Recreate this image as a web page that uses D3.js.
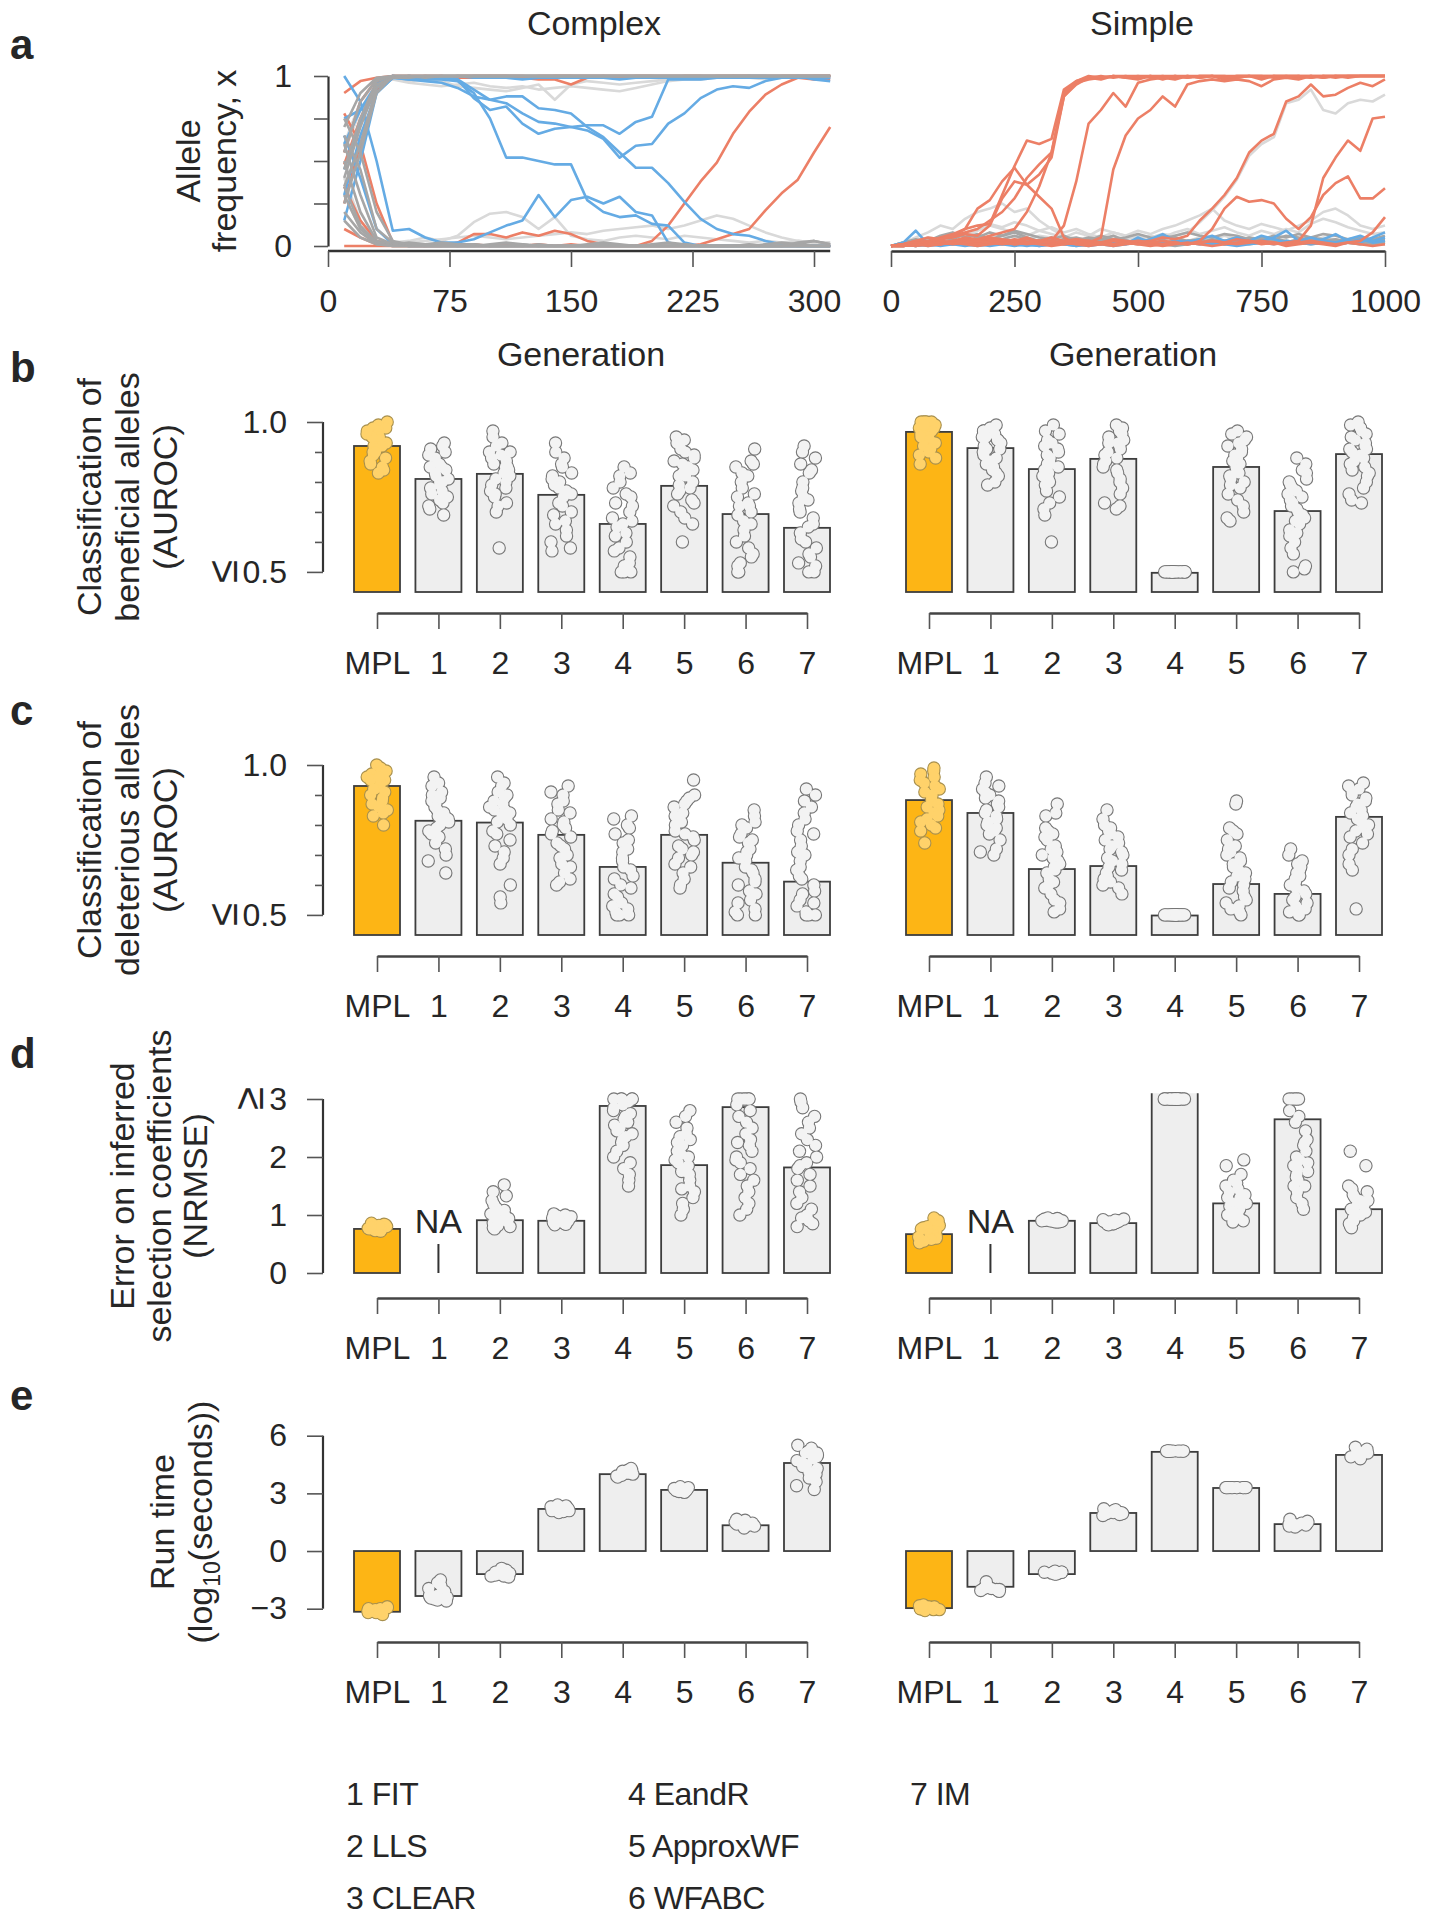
<!DOCTYPE html>
<html><head><meta charset="utf-8">
<script src="https://cdn.jsdelivr.net/npm/d3@7"></script>
<style>
body{margin:0;background:#fff}
text{font-family:"Liberation Sans",Arial,sans-serif;fill:#262626}
</style>
</head><body><script>
// ---------------- DATA ----------------
const CATS = ["MPL","1","2","3","4","5","6","7"];
const LEGEND = [["1 FIT","2 LLS","3 CLEAR"],["4 EandR","5 ApproxWF","6 WFABC"],["7 IM"]];
const complexTicks = [0,75,150,225,300];
const simpleTicks = [0,250,500,750,1000];

// Panel a, Complex: allele frequency at generations 10..310 (step 10)
const complexBlue = [
 [1.0,0.85,0.5,0.09,0.1,0.05,0.02,0.02,0.04,0.08, 0.12,0.15,0.3,0.17,0.27,0.29,0.25,0.29,0.2,0.18, 0.02,0,0,0,0,0,0,0,0,0, 0],
 [0.45,0.72,0.93,0.99,0.98,0.99,0.99,0.98,0.87,0.8, 0.82,0.72,0.66,0.69,0.7,0.71,0.71,0.66,0.73,0.76, 0.98,0.98,0.98,0.99,0.99,0.99,0.99,0.99,0.99,0.99, 0.99],
 [0.6,0.8,0.95,1,0.99,0.98,0.98,0.97,0.9,0.75, 0.52,0.52,0.5,0.48,0.48,0.27,0.2,0.17,0.18,0.13, 0.12,0.02,0,0,0,0,0,0,0,0, 0],
 [0.3,0.65,0.9,0.99,0.98,0.97,0.96,0.93,0.88,0.86, 0.88,0.88,0.81,0.8,0.78,0.7,0.64,0.55,0.46,0.46, 0.37,0.26,0.16,0.1,0.07,0.06,0.03,0.01,0,0, 0],
 [0.75,0.8,0.95,1,0.99,0.99,0.99,0.98,0.92,0.86, 0.84,0.78,0.73,0.72,0.7,0.68,0.63,0.52,0.59,0.6, 0.72,0.78,0.87,0.92,0.94,0.93,0.97,0.99,1,0.98, 0.97],
 [0.15,0.5,0.9,0.99,1,0.99,0.99,1,0.99,0.99, 0.99,0.98,0.99,0.99,0.99,0.99,0.99,0.98,0.99,0.99, 0.99,0.99,0.99,0.99,0.99,1,1,0.99,0.99,0.99, 0.99],
 [0.65,0.4,0.1,0.01,0,0,0,0,0,0, 0,0,0,0,0,0,0,0,0,0, 0,0,0,0,0,0,0,0,0,0, 0]
];
const complexRed = [
 [0.9,0.97,0.99,1,1,0.99,1,0.99,0.99,1, 0.99,0.99,0.98,0.98,0.95,0.99,0.99,0.99,0.99,0.99, 0.99,0.99,0.99,1,1,0.99,0.99,0.99,0.99,0.98, 0.98],
 [0.35,0.15,0.03,0.01,0.01,0,0.01,0,0.01,0, 0.01,0,0.01,0,0.01,0,0,0,0,0.03, 0.12,0.25,0.38,0.49,0.66,0.79,0.89,0.95,0.99,1, 1],
 [0.1,0.05,0.01,0,0,0,0,0,0,0, 0,0,0,0,0,0,0,0,0,0, 0,0,0.01,0.04,0.07,0.1,0.21,0.31,0.39,0.55, 0.7],
 [0,0,0,0,0,0,0,0.02,0.07,0.07, 0.05,0.08,0.06,0.09,0.07,0.03,0.01,0,0,0, 0,0,0,0,0,0,0,0,0,0, 0],
 [0.55,0.85,0.98,1,0.99,1,1,0.99,1,1, 1,1,0.99,1,1,1,1,0.99,1,1, 1,1,1,0.99,1,1,1,1,1,1, 1],
 [0.25,0.6,0.92,0.99,1,1,0.99,1,1,1, 1,0.99,1,1,1,0.99,1,1,1,1, 0.99,1,1,1,1,1,0.99,1,1,1, 1],
 [0.78,0.6,0.25,0.02,0,0,0,0,0,0, 0,0,0,0,0,0,0,0,0,0, 0,0,0,0,0,0,0,0,0,0, 0],
 [0.48,0.75,0.96,1,1,1,1,1,1,1, 1,1,1,1,1,1,1,1,1,1, 1,1,1,1,1,1,1,1,1,1, 1]
];
const complexGray = [
 [0.5,0.2,0.03,0.01,0,0,0,0,0,0, 0,0,0,0,0,0,0,0,0,0, 0,0,0,0,0,0,0,0,0,0, 0],
 [0.7,0.9,0.99,1,1,1,1,1,1,1, 1,1,1,1,1,1,1,1,1,1, 1,1,1,1,1,1,1,1,1,1, 1],
 [0.35,0.12,0.02,0.01,0,0.01,0,0,0.01,0, 0,0,0.01,0,0,0,0.01,0,0,0, 0,0.01,0,0,0,0,0,0,0.01,0.03, 0.01],
 [0.25,0.55,0.9,1,1,0.99,1,1,1,1, 1,1,1,1,1,1,1,1,1,1, 1,1,1,1,1,1,1,1,1,1, 1],
 [0.6,0.3,0.05,0.01,0.02,0.01,0.01,0,0,0.01, 0.02,0.01,0,0,0,0.01,0.02,0.01,0,0, 0,0,0,0,0,0,0.01,0.02,0.01,0, 0],
 [0.45,0.75,0.97,1,1,1,1,1,1,1, 1,1,1,1,1,1,1,1,1,1, 1,1,1,1,1,1,1,1,1,1, 1],
 [0.2,0.08,0.01,0,0,0,0,0,0,0, 0,0,0,0,0,0,0,0,0,0, 0,0,0,0,0,0,0,0,0,0, 0],
 [0.4,0.7,0.95,0.99,0.99,1,1,1,1,1, 1,1,1,1,1,1,1,1,1,1, 1,1,1,1,1,1,1,1,1,1, 1],
 [0.3,0.1,0.02,0,0,0,0,0,0,0, 0,0,0,0,0,0,0,0,0,0, 0,0,0,0,0,0,0,0,0.02,0.03, 0.01],
 [0.55,0.85,0.98,1,1,1,1,1,1,1, 1,1,1,1,1,1,1,1,1,1, 1,1,1,1,1,1,1,1,1,1, 1],
 [0.15,0.05,0.01,0,0,0,0,0,0,0, 0,0,0,0,0,0,0,0,0,0, 0,0,0,0,0,0,0,0,0,0, 0],
 [0.65,0.45,0.1,0.02,0.01,0,0,0,0,0, 0,0,0,0,0,0,0,0,0,0, 0,0,0,0,0,0,0,0,0,0, 0],
 [0.75,0.55,0.2,0.03,0.01,0.01,0.02,0.01,0.01,0, 0,0.01,0,0,0,0,0,0,0,0.01, 0.02,0.01,0,0,0,0.01,0,0,0,0, 0],
 [0.35,0.6,0.93,0.99,1,1,1,1,1,1, 1,1,1,1,1,1,1,1,1,1, 1,1,1,1,1,1,1,1,1,1, 1]
];
const complexLight = [
 [0.55,0.8,0.97,0.99,0.97,0.98,0.97,0.94,0.93,0.92, 0.91,0.93,0.95,0.86,0.95,0.97,0.96,0.95,0.96,0.97, 0.98,0.99,0.99,0.99,1,1,0.99,0.99,1,1, 1],
 [0.4,0.15,0.03,0.02,0.03,0.05,0.03,0.06,0.14,0.19, 0.2,0.17,0.1,0.17,0.06,0.04,0.03,0.05,0.06,0.05, 0.04,0.06,0.05,0.04,0.03,0.02,0.03,0.02,0.03,0.02, 0.02],
 [0.3,0.1,0.02,0.01,0.02,0.03,0.04,0.05,0.06,0.05, 0.04,0.05,0.06,0.07,0.08,0.07,0.09,0.1,0.11,0.12, 0.1,0.12,0.15,0.18,0.16,0.12,0.08,0.05,0.03,0.02, 0.02],
 [0.6,0.85,0.96,0.98,0.96,0.95,0.94,0.95,0.96,0.94, 0.93,0.94,0.92,0.93,0.94,0.93,0.92,0.91,0.93,0.95, 0.97,0.98,0.98,0.99,0.99,0.99,0.98,0.99,0.99,0.99, 0.99]
];

// Panel a, Simple: allele frequency at generations 0..1000 (step 25)
const simpleRed = [
 [0,0.01,0.02,0.03,0.05,0.07,0.1,0.12,0.13,0.3, 0.47,0.62,0.6,0.63,0.92,0.97,0.99,1,0.99,1, 1,0.99,1,1,1,0.99,1,1,1,1, 1,1,1,0.99,1,1,1,1,1,1, 1],
 [0,0,0.01,0.02,0.04,0.06,0.08,0.1,0.15,0.2, 0.28,0.4,0.48,0.55,0.88,0.96,0.98,0.99,1,0.99, 1,1,0.98,1,0.99,1,1,0.99,1,1, 1,1,1,1,0.99,1,1,1,1,1, 1],
 [0,0.01,0.03,0.02,0.04,0.05,0.07,0.06,0.12,0.28, 0.38,0.36,0.42,0.52,0.88,0.95,0.99,0.98,1,0.99, 0.98,1,0.99,0.98,1,0.99,1,1,0.99,1, 0.98,1,0.99,1,1,1,0.99,1,1,1, 1],
 [0,0,0.01,0.02,0.01,0.03,0.05,0.04,0.06,0.08, 0.1,0.2,0.35,0.55,0.9,0.97,1,0.99,1,1, 0.99,1,1,0.99,1,1,1,0.98,0.99,1, 1,0.99,1,1,1,0.99,1,1,1,1, 1],
 [0,0.01,0.03,0.05,0.04,0.06,0.1,0.22,0.27,0.38, 0.46,0.36,0.29,0.22,0.05,0.01,0,0.01,0,0.01, 0.02,0.01,0,0.01,0.02,0.01,0,0.01,0.02,0.03, 0.01,0.02,0,0.01,0.02,0.01,0,0.02,0.01,0, 0.01],
 [0,0.01,0.02,0.01,0.03,0.02,0.04,0.03,0.05,0.04, 0.03,0.05,0.02,0.03,0.12,0.38,0.72,0.8,0.9,0.82, 0.96,0.98,0.99,1,0.99,1,1,0.99,1,1, 0.99,1,1,1,0.99,1,1,1,1,1, 1],
 [0,0,0.01,0.02,0.01,0.02,0.03,0.02,0.04,0.03, 0.02,0.04,0.03,0.05,0.03,0.04,0.02,0.05,0.45,0.65, 0.75,0.8,0.88,0.82,0.95,0.97,0.98,0.97,0.98,0.97, 0.94,0.98,0.99,0.98,1,0.99,1,0.99,1,1, 1],
 [0,0.01,0,0.02,0.01,0.03,0.02,0.01,0.03,0.02, 0.04,0.02,0.03,0.01,0.02,0.04,0.03,0.02,0.04,0.03, 0.02,0.03,0.05,0.04,0.06,0.15,0.22,0.3,0.4,0.55, 0.62,0.66,0.85,0.88,0.95,0.88,0.89,0.93,0.96,0.94, 0.98],
 [0,0.01,0.02,0.01,0.02,0.03,0.02,0.01,0.02,0.03, 0.01,0.02,0.03,0.02,0.01,0.02,0.03,0.02,0.01,0.02, 0.03,0.02,0.01,0.02,0.01,0.03,0.1,0.22,0.29,0.26, 0.27,0.25,0.16,0.1,0.17,0.3,0.37,0.41,0.28,0.28, 0.34],
 [0,0.01,0,0.01,0.02,0.01,0.02,0.03,0.02,0.01, 0.02,0.01,0.02,0.03,0.02,0.01,0.02,0.01,0.03,0.02, 0.01,0.02,0.03,0.02,0.01,0.02,0.03,0.02,0.04,0.03, 0.02,0.01,0.02,0.03,0.12,0.4,0.52,0.62,0.56,0.75, 0.76],
 [0,0,0.01,0,0.01,0.02,0.01,0,0.01,0.02, 0.01,0.02,0.01,0,0.01,0.02,0.01,0.02,0.01,0.02, 0.01,0,0.01,0.02,0.01,0.02,0.03,0.02,0.01,0.02, 0.03,0.02,0.01,0.02,0.03,0.02,0.01,0.02,0.03,0.08, 0.17]
];
const simpleBlue = [
 [0,0.02,0.09,0.01,0.02,0.01,0,0.01,0.02,0.01, 0,0.01,0,0.01,0.02,0.01,0,0.01,0.02,0.01, 0.05,0.02,0.01,0.03,0.02,0.01,0.02,0.01,0,0.01, 0.02,0.01,0.03,0.02,0.01,0.02,0.01,0.02,0.04,0.02, 0.03],
 [0,0,0.01,0,0.01,0.02,0.01,0,0.01,0.02, 0.01,0,0.01,0.02,0.01,0,0.01,0.02,0.01,0.03, 0.02,0.04,0.07,0.03,0.02,0.04,0.06,0.03,0.05,0.03, 0.06,0.04,0.02,0.03,0.05,0.03,0.02,0.04,0.06,0.03, 0.05],
 [0,0.01,0,0.01,0,0.01,0.02,0.01,0,0.01, 0.02,0.01,0,0.01,0.02,0.01,0.02,0.01,0,0.01, 0.02,0.01,0.02,0.01,0.03,0.02,0.01,0.02,0.04,0.02, 0.03,0.05,0.09,0.03,0.02,0.04,0.07,0.03,0.02,0.05, 0.08]
];
const simpleGray = [
 [0,0.01,0.02,0.01,0.03,0.02,0.04,0.03,0.05,0.04, 0.06,0.04,0.03,0.05,0.02,0.03,0.04,0.02,0.01,0.03, 0.02,0.01,0.02,0.03,0.01,0.02,0.04,0.03,0.05,0.03, 0.02,0.04,0.03,0.02,0.01,0.02,0.03,0.02,0.01,0.02, 0.01],
 [0,0.02,0.01,0.03,0.05,0.04,0.07,0.05,0.08,0.06, 0.09,0.07,0.05,0.04,0.06,0.03,0.02,0.04,0.03,0.02, 0.01,0.02,0.01,0,0.01,0.02,0.01,0.02,0.03,0.05, 0.04,0.06,0.05,0.07,0.05,0.04,0.03,0.04,0.02,0.03, 0.02],
 [0,0,0.01,0.02,0.01,0.02,0.01,0.03,0.02,0.01, 0.02,0.01,0.03,0.02,0.04,0.05,0.03,0.06,0.04,0.05, 0.07,0.05,0.04,0.06,0.08,0.06,0.05,0.07,0.06,0.04, 0.05,0.03,0.02,0.04,0.05,0.07,0.06,0.04,0.05,0.03, 0.04],
 [0,0.01,0,0.01,0.02,0.01,0.02,0.04,0.03,0.02, 0.01,0.02,0.01,0.02,0.01,0,0.01,0.02,0.01,0.02, 0.03,0.02,0.01,0.02,0.03,0.04,0.02,0.01,0.02,0.01, 0.02,0.03,0.01,0.02,0.04,0.03,0.01,0.02,0.03,0.01, 0.02],
 [0,0.02,0.04,0.03,0.06,0.08,0.05,0.07,0.04,0.06, 0.08,0.05,0.03,0.02,0.04,0.03,0.05,0.04,0.06,0.03, 0.02,0.04,0.06,0.05,0.03,0.02,0.03,0.01,0.02,0.03, 0.05,0.04,0.06,0.05,0.03,0.04,0.02,0.03,0.05,0.04, 0.06],
 [0,0.01,0.01,0.02,0.01,0.01,0.02,0.01,0.02,0.03, 0.02,0.03,0.02,0.01,0.02,0.03,0.02,0.04,0.03,0.02, 0.04,0.03,0.02,0.01,0.02,0.01,0.02,0.03,0.02,0.04, 0.03,0.02,0.01,0.03,0.02,0.03,0.04,0.02,0.01,0.02, 0.03]
];
const simpleLight = [
 [0,0.02,0.05,0.08,0.12,0.1,0.16,0.2,0.22,0.25, 0.2,0.22,0.15,0.1,0.06,0.04,0.05,0.03,0.06,0.04, 0.05,0.03,0.04,0.02,0.03,0.05,0.04,0.06,0.04,0.03, 0.02,0.03,0.02,0.04,0.03,0.05,0.04,0.03,0.02,0.03, 0.02],
 [0,0.01,0.02,0.03,0.02,0.04,0.03,0.05,0.04,0.06, 0.05,0.04,0.06,0.05,0.03,0.04,0.05,0.06,0.04,0.05, 0.06,0.05,0.07,0.06,0.08,0.14,0.21,0.29,0.39,0.53, 0.6,0.64,0.84,0.86,0.92,0.8,0.78,0.84,0.86,0.85, 0.89],
 [0,0.01,0.03,0.02,0.05,0.07,0.06,0.09,0.12,0.1, 0.08,0.06,0.09,0.07,0.05,0.08,0.06,0.1,0.08,0.06, 0.09,0.07,0.1,0.12,0.15,0.18,0.22,0.15,0.12,0.1, 0.13,0.11,0.09,0.12,0.15,0.2,0.22,0.18,0.12,0.1, 0.12],
 [0,0.02,0.03,0.05,0.04,0.06,0.08,0.1,0.13,0.11, 0.14,0.12,0.09,0.11,0.08,0.1,0.07,0.05,0.08,0.06, 0.04,0.06,0.05,0.08,0.1,0.07,0.09,0.11,0.08,0.06, 0.09,0.07,0.1,0.08,0.13,0.16,0.14,0.11,0.09,0.07, 0.08]
];

// Panel b: AUROC beneficial
const benComplexBars = [0.92,0.81,0.827,0.757,0.66,0.787,0.693,0.647];
const benSimpleBars  = [0.967,0.913,0.843,0.877,0.497,0.85,0.703,0.893];
const benComplexPts = [
 [1.0,0.99,0.98,0.98,0.97,0.96,0.96,0.95,0.94,0.94,0.93,0.92,0.92,0.91,0.9,0.89,0.88,0.87,0.86,0.85,0.84,0.83,0.9,0.95,0.97],
 [0.93,0.92,0.91,0.9,0.89,0.88,0.87,0.86,0.85,0.84,0.83,0.82,0.81,0.8,0.79,0.78,0.77,0.76,0.75,0.74,0.73,0.72,0.71,0.69,0.8,0.85],
 [0.97,0.95,0.93,0.92,0.9,0.89,0.88,0.87,0.86,0.85,0.84,0.83,0.82,0.81,0.8,0.79,0.78,0.77,0.76,0.75,0.73,0.72,0.7,0.58,0.85,0.9],
 [0.93,0.9,0.88,0.86,0.85,0.83,0.82,0.8,0.79,0.78,0.76,0.75,0.73,0.72,0.7,0.69,0.67,0.66,0.64,0.62,0.6,0.58,0.57,0.77,0.81],
 [0.85,0.83,0.82,0.8,0.78,0.76,0.75,0.73,0.72,0.7,0.68,0.67,0.65,0.63,0.62,0.6,0.58,0.57,0.55,0.53,0.52,0.5,0.5,0.5,0.66],
 [0.95,0.94,0.93,0.91,0.9,0.89,0.88,0.87,0.86,0.85,0.84,0.83,0.82,0.8,0.79,0.78,0.77,0.76,0.74,0.73,0.72,0.7,0.68,0.66,0.6,0.82],
 [0.91,0.87,0.86,0.85,0.83,0.82,0.8,0.78,0.76,0.75,0.73,0.72,0.7,0.69,0.67,0.66,0.64,0.62,0.6,0.58,0.56,0.55,0.53,0.52,0.5,0.5,0.72],
 [0.92,0.9,0.88,0.86,0.84,0.83,0.8,0.78,0.77,0.75,0.73,0.71,0.7,0.68,0.66,0.65,0.63,0.61,0.6,0.58,0.56,0.55,0.53,0.52,0.5,0.5,0.74]
];
const benSimplePts = [
 [1.0,1.0,1.0,1.0,0.99,0.99,0.99,0.98,0.98,0.97,0.97,0.96,0.95,0.95,0.94,0.93,0.92,0.91,0.9,0.89,0.88,0.86,1.0,0.99],
 [0.99,0.98,0.97,0.97,0.96,0.95,0.94,0.94,0.93,0.92,0.91,0.9,0.89,0.88,0.87,0.86,0.85,0.84,0.83,0.82,0.8,0.79,0.91,0.95],
 [0.99,0.97,0.96,0.94,0.93,0.92,0.91,0.9,0.89,0.88,0.87,0.86,0.85,0.84,0.83,0.82,0.81,0.8,0.79,0.77,0.75,0.73,0.71,0.69,0.6,0.86],
 [0.99,0.98,0.97,0.96,0.95,0.94,0.93,0.93,0.92,0.91,0.9,0.89,0.88,0.87,0.86,0.85,0.84,0.83,0.81,0.8,0.78,0.76,0.73,0.71,0.72],
 [0.5,0.5,0.5,0.5,0.5,0.5,0.5,0.5,0.5,0.5,0.5,0.5,0.5,0.5,0.5,0.5,0.5,0.5,0.5,0.5],
 [0.97,0.96,0.95,0.94,0.93,0.92,0.91,0.9,0.89,0.88,0.87,0.86,0.85,0.84,0.83,0.82,0.81,0.8,0.79,0.78,0.76,0.74,0.72,0.7,0.68,0.67],
 [0.88,0.86,0.84,0.83,0.81,0.8,0.79,0.78,0.77,0.76,0.75,0.74,0.73,0.72,0.71,0.7,0.69,0.68,0.67,0.66,0.64,0.63,0.62,0.6,0.58,0.56,0.52,0.51,0.5],
 [1.0,0.99,0.98,0.98,0.97,0.96,0.95,0.94,0.93,0.92,0.91,0.91,0.9,0.89,0.88,0.87,0.86,0.85,0.84,0.83,0.82,0.8,0.78,0.76,0.74,0.73]
];

// Panel c: AUROC deleterious
const delComplexBars = [0.93,0.814,0.808,0.767,0.66,0.767,0.674,0.611];
const delSimpleBars  = [0.883,0.84,0.653,0.663,0.498,0.603,0.57,0.827];
const delComplexPts = [
 [1.0,0.99,0.98,0.98,0.97,0.96,0.95,0.95,0.94,0.93,0.92,0.91,0.9,0.89,0.88,0.87,0.86,0.85,0.84,0.83,0.8,0.96,0.92],
 [0.96,0.94,0.93,0.91,0.9,0.89,0.88,0.87,0.86,0.85,0.84,0.83,0.82,0.81,0.8,0.79,0.78,0.77,0.76,0.74,0.72,0.7,0.68,0.64,0.83],
 [0.96,0.94,0.93,0.91,0.9,0.89,0.88,0.87,0.86,0.85,0.84,0.83,0.82,0.81,0.8,0.78,0.77,0.75,0.73,0.71,0.69,0.67,0.6,0.56,0.54,0.85],
 [0.93,0.91,0.9,0.88,0.87,0.85,0.84,0.82,0.81,0.8,0.78,0.77,0.76,0.74,0.73,0.72,0.7,0.69,0.67,0.66,0.64,0.62,0.61,0.6,0.79],
 [0.83,0.82,0.8,0.79,0.77,0.75,0.74,0.72,0.71,0.69,0.68,0.66,0.65,0.63,0.62,0.6,0.59,0.57,0.56,0.54,0.53,0.52,0.51,0.5,0.5,0.5],
 [0.95,0.9,0.89,0.88,0.87,0.86,0.84,0.83,0.82,0.81,0.8,0.78,0.77,0.76,0.75,0.73,0.72,0.71,0.7,0.69,0.67,0.66,0.64,0.62,0.6,0.59],
 [0.85,0.83,0.81,0.8,0.79,0.77,0.76,0.75,0.74,0.72,0.71,0.7,0.69,0.68,0.66,0.65,0.64,0.62,0.61,0.6,0.58,0.57,0.55,0.54,0.52,0.51,0.5,0.5],
 [0.92,0.9,0.88,0.86,0.84,0.82,0.8,0.78,0.77,0.75,0.73,0.71,0.7,0.68,0.66,0.65,0.63,0.62,0.6,0.58,0.57,0.55,0.54,0.53,0.51,0.5,0.5,0.5]
];
const delSimplePts = [
 [0.99,0.98,0.97,0.96,0.95,0.94,0.93,0.92,0.91,0.9,0.89,0.88,0.87,0.86,0.85,0.84,0.83,0.82,0.81,0.8,0.79,0.78,0.74],
 [0.96,0.94,0.93,0.92,0.91,0.9,0.89,0.88,0.87,0.86,0.85,0.84,0.83,0.82,0.81,0.8,0.79,0.78,0.77,0.75,0.72,0.71,0.7],
 [0.87,0.84,0.83,0.79,0.78,0.77,0.76,0.75,0.73,0.72,0.71,0.7,0.69,0.68,0.67,0.66,0.65,0.64,0.62,0.61,0.6,0.59,0.57,0.55,0.54,0.52,0.51],
 [0.85,0.82,0.8,0.79,0.78,0.77,0.76,0.75,0.74,0.73,0.72,0.71,0.7,0.69,0.68,0.67,0.66,0.65,0.64,0.63,0.62,0.61,0.6,0.59,0.57],
 [0.5,0.5,0.5,0.5,0.5,0.5,0.5,0.5,0.5,0.5,0.5,0.5,0.5,0.5,0.5,0.5,0.5,0.5,0.5,0.5],
 [0.88,0.87,0.79,0.78,0.77,0.75,0.73,0.72,0.71,0.7,0.69,0.68,0.67,0.66,0.65,0.64,0.63,0.62,0.61,0.6,0.59,0.58,0.56,0.55,0.54,0.53,0.52,0.51,0.5],
 [0.72,0.7,0.68,0.67,0.66,0.65,0.64,0.63,0.62,0.61,0.6,0.59,0.58,0.57,0.56,0.55,0.54,0.53,0.52,0.51,0.5,0.5],
 [0.94,0.93,0.92,0.91,0.9,0.89,0.88,0.87,0.86,0.85,0.84,0.83,0.82,0.81,0.8,0.79,0.78,0.77,0.76,0.74,0.72,0.7,0.67,0.65,0.52]
];

// Panel d: NRMSE (null = NA)
const errComplexBars = [0.76,null,0.91,0.9,2.88,1.86,2.86,1.82];
const errSimpleBars  = [0.67,null,0.9,0.86,3.5,1.2,2.65,1.1];
const errComplexPts = [
 [0.86,0.84,0.83,0.82,0.81,0.8,0.8,0.79,0.78,0.78,0.77,0.76,0.75,0.74,0.73,0.72,0.82,0.79],
 [],
 [1.52,1.4,1.33,1.25,1.18,1.12,1.08,1.05,1.02,1.0,0.98,0.96,0.94,0.92,0.9,0.88,0.86,0.84,0.82,0.8,0.78,0.76,1.0,0.95],
 [1.02,1.0,0.98,0.97,0.96,0.95,0.94,0.93,0.92,0.91,0.9,0.89,0.88,0.87,0.86,0.85,0.84,0.83],
 [3.0,3.0,3.0,3.0,3.0,2.95,2.9,2.85,2.8,2.75,2.7,2.65,2.6,2.55,2.5,2.45,2.4,2.35,2.3,2.25,2.2,2.1,2.0,1.9,1.8,1.7,1.6,1.5],
 [2.8,2.7,2.6,2.5,2.4,2.35,2.3,2.25,2.2,2.1,2.05,2.0,1.95,1.9,1.85,1.8,1.75,1.7,1.6,1.5,1.45,1.4,1.3,1.2,1.1,1.0],
 [3.0,3.0,3.0,3.0,3.0,3.0,2.9,2.8,2.7,2.6,2.5,2.4,2.3,2.2,2.1,2.0,1.95,1.9,1.8,1.7,1.6,1.5,1.4,1.3,1.2,1.1,1.0,2.25],
 [3.0,2.95,2.85,2.7,2.6,2.5,2.4,2.3,2.2,2.1,2.0,1.9,1.85,1.8,1.7,1.6,1.5,1.4,1.3,1.2,1.1,1.0,0.95,0.9,0.85,0.8]
];
const errSimplePts = [
 [0.95,0.9,0.85,0.82,0.8,0.78,0.76,0.74,0.72,0.7,0.68,0.66,0.64,0.62,0.6,0.58,0.55,0.52],
 [],
 [0.95,0.94,0.93,0.93,0.92,0.92,0.91,0.91,0.9,0.9,0.9,0.89,0.89,0.88,0.88,0.92,0.91],
 [0.93,0.92,0.91,0.9,0.9,0.89,0.88,0.88,0.87,0.87,0.86,0.86,0.85,0.85,0.84,0.83,0.89],
 [3.0,3.0,3.0,3.0,3.0,3.0,3.0,3.0,3.0,3.0,3.0,3.0,3.0,3.0,3.0,3.0,3.0,3.0,3.0,3.0],
 [1.95,1.85,1.7,1.6,1.55,1.5,1.45,1.4,1.35,1.3,1.25,1.2,1.15,1.1,1.05,1.0,0.95,0.9,0.88,1.3,1.2],
 [3.0,3.0,3.0,3.0,3.0,2.8,2.7,2.6,2.45,2.3,2.25,2.2,2.1,2.0,1.95,1.9,1.85,1.8,1.7,1.65,1.6,1.5,1.4,1.3,1.2,1.1,1.5,1.75],
 [2.1,1.85,1.5,1.45,1.4,1.35,1.3,1.25,1.2,1.15,1.1,1.05,1.0,0.95,0.9,0.85,0.8,0.78,1.1,1.25]
];

// Panel e: run time, log10(seconds)
const timeComplexBars = [-3.16,-2.34,-1.2,2.19,4.0,3.18,1.34,4.58];
const timeSimpleBars  = [-2.97,-1.86,-1.2,1.98,5.16,3.28,1.4,5.0];
const timeComplexPts = [
 [-2.9,-2.95,-3.0,-3.05,-3.1,-3.1,-3.15,-3.2,-3.2,-3.25,-3.3,-3.05,-3.15,-3.0,-3.1,-3.2],
 [-1.5,-1.65,-1.8,-1.95,-2.1,-2.2,-2.3,-2.35,-2.4,-2.45,-2.5,-2.55,-2.6,-2.4,-2.3,-2.5,-2.45,-2.35],
 [-0.9,-1.0,-1.05,-1.1,-1.15,-1.2,-1.25,-1.3,-1.35,-1.15,-1.2,-1.25,-1.1,-1.3],
 [2.4,2.35,2.3,2.25,2.2,2.15,2.1,2.05,2.0,2.2,2.3,2.15,2.1,2.25],
 [4.3,4.2,4.15,4.1,4.05,4.0,3.95,3.9,3.85,4.1,4.2,4.0,4.05,3.95],
 [3.35,3.3,3.25,3.2,3.15,3.1,3.05,3.2,3.25,3.15,3.2,3.1],
 [1.65,1.6,1.5,1.45,1.4,1.35,1.3,1.25,1.2,1.4,1.5,1.35],
 [5.5,5.35,5.2,5.1,5.0,4.9,4.8,4.7,4.6,4.5,4.4,4.3,4.2,4.1,4.0,3.8,3.6,3.4,3.2,4.9,5.1,4.6]
];
const timeSimplePts = [
 [-2.8,-2.85,-2.9,-2.95,-3.0,-3.05,-3.1,-2.9,-3.0,-2.95,-3.05,-2.9],
 [-1.6,-1.75,-1.85,-1.95,-2.0,-2.05,-2.1,-1.9,-2.0,-1.95,-2.05,-1.85],
 [-1.05,-1.1,-1.1,-1.15,-1.15,-1.2,-1.1,-1.15,-1.1,-1.2],
 [2.2,2.15,2.1,2.05,2.0,1.95,1.9,1.85,2.1,2.0,1.95,2.05],
 [5.2,5.2,5.2,5.2,5.2,5.2,5.2,5.2,5.2,5.2,5.2,5.2],
 [3.3,3.3,3.3,3.3,3.3,3.3,3.3,3.3,3.3,3.3,3.3,3.3],
 [1.65,1.55,1.5,1.45,1.4,1.35,1.3,1.25,1.45,1.35,1.4,1.5],
 [5.4,5.3,5.2,5.15,5.1,5.0,4.95,4.9,4.85,4.8,5.05,5.2]
];

// ---------------- DRAW ----------------
const W = 1431, H = 1920;
const svg = d3.select("body").append("svg").attr("width", W).attr("height", H);
svg.append("rect").attr("width", W).attr("height", H).attr("fill", "#fff");

const COL = {blue:"#65abe4", red:"#ec7f66", gray:"#a6a6a6", light:"#d9d9d9",
             bar:"#eeeeee", barStroke:"#3d3d3d", mpl:"#fdb515", mplPt:"#ffd26a"};
const TICKFS = 32, TITLEFS = 34;

function styleAxis(g, fs) {
  g.attr("font-size", fs).attr("font-family", '"Liberation Sans", Arial, sans-serif');
  g.select(".domain").attr("stroke", "#333").attr("stroke-width", 2.2);
  g.selectAll(".tick line").attr("stroke", "#555").attr("stroke-width", 1.6);
  g.selectAll(".tick text").attr("fill", "#262626");
}

// ----- Panel a -----
const yA = d3.scaleLinear().domain([0, 1]).range([246, 76]);
const xC = d3.scaleLinear().domain([0, 300]).range([328, 814]);
const xS = d3.scaleLinear().domain([0, 1000]).range([891, 1385]);
const gensC = d3.range(10, 311, 10);
const gensS = d3.range(0, 1001, 25);

function drawLines(x, gens, sets) {
  const g = svg.append("g");
  const line = d3.line().x((d, i) => x(gens[i])).y(d => yA(d));
  sets.forEach(([color, lines]) => {
    g.append("g").selectAll("path").data(lines).join("path")
      .attr("fill", "none").attr("stroke", color).attr("stroke-width", 2.6)
      .attr("stroke-linejoin", "round").attr("d", line);
  });
}
drawLines(xC, gensC, [[COL.light, complexLight], [COL.red, complexRed], [COL.blue, complexBlue], [COL.gray, complexGray]]);
drawLines(xS, gensS, [[COL.light, simpleLight], [COL.gray, simpleGray], [COL.blue, simpleBlue], [COL.red, simpleRed]]);

const gya = svg.append("g").attr("transform", "translate(328,0)")
  .call(d3.axisLeft(yA).tickValues([0, 0.25, 0.5, 0.75, 1]).tickSize(14).tickPadding(22).tickSizeOuter(0)
  .tickFormat(d => d === 0 ? "0" : d === 1 ? "1" : ""));
styleAxis(gya, TICKFS);

const gxc = svg.append("g").attr("transform", "translate(0,251)")
  .call(d3.axisBottom(xC).tickValues(complexTicks).tickSize(16).tickPadding(22).tickSizeOuter(0).tickFormat(d3.format("d")));
styleAxis(gxc, TICKFS);
gxc.select(".domain").attr("d", `M${xC(0)},0H${xC(d3.max(gensC))}`).attr("stroke-width", 2.6);
const gxs = svg.append("g").attr("transform", "translate(0,251)")
  .call(d3.axisBottom(xS).tickValues(simpleTicks).tickSize(16).tickPadding(22).tickSizeOuter(0).tickFormat(d3.format("d")));
styleAxis(gxs, TICKFS);
gxs.select(".domain").attr("stroke-width", 2.6);

function label(x, y, txt, opts = {}) {
  const t = svg.append("text").attr("x", x).attr("y", y).text(txt)
    .attr("font-size", opts.fs || TITLEFS).attr("text-anchor", opts.anchor || "middle");
  if (opts.weight) t.attr("font-weight", opts.weight);
  return t;
}
label(594, 35, "Complex");
label(1142, 35, "Simple");
label(581, 366, "Generation");
label(1133, 366, "Generation");

[["a", 59], ["b", 382], ["c", 725], ["d", 1068], ["e", 1410]].forEach(([l, y]) =>
  label(10, y, l, {fs: 42, anchor: "start", weight: "bold"}));

function yTitle(lines, xs, cy) {
  lines.forEach((t, i) => {
    const el = svg.append("text").attr("transform", `translate(${xs[i]},${cy}) rotate(-90)`)
      .attr("text-anchor", "middle").attr("font-size", TITLEFS);
    if (typeof t === "string") el.text(t);
    else t(el);
  });
}
yTitle(["Allele", "frequency, x"], [200, 236], 161);
yTitle(["Classification of", "beneficial alleles", "(AUROC)"], [101, 139, 177], 497);
yTitle(["Classification of", "deleterious alleles", "(AUROC)"], [101, 139, 177], 840);
yTitle(["Error on inferred", "selection coefficients", "(NRMSE)"], [134, 171, 207], 1186);
yTitle(["Run time", el => {
  el.append("tspan").text("(log");
  el.append("tspan").attr("font-size", 23).attr("dy", 8).text("10");
  el.append("tspan").attr("dy", -8).text("(seconds))");
}], [174, 212], 1522);

// ----- bar panels -----
const xL = d3.scalePoint().domain(CATS).range([377, 807]);
const xR = d3.scalePoint().domain(CATS).range([929, 1359]);
const BW = 46, R = 5.6;

let seed = 7;
function barSide(xs, y, base, bars, pts, axisY, clipTop) {
  const g = svg.append("g");
  const gb = g.append("g");
  if (clipTop !== undefined) {
    const id = "clip" + (seed++);
    svg.append("clipPath").attr("id", id).append("rect")
      .attr("x", 0).attr("y", y(clipTop)).attr("width", W).attr("height", H);
    gb.attr("clip-path", `url(#${id})`);
  }
  const bd = CATS.map((c, i) => ({c, v: bars[i], i})).filter(d => d.v !== null);
  gb.selectAll("rect").data(bd).join("rect")
    .attr("x", d => xs(d.c) - BW / 2).attr("width", BW)
    .attr("y", d => Math.min(y(d.v), y(base)))
    .attr("height", d => Math.abs(y(d.v) - y(base)))
    .attr("fill", d => d.i === 0 ? COL.mpl : COL.bar)
    .attr("stroke", COL.barStroke).attr("stroke-width", 1.8);
  CATS.forEach((c, i) => {
    if (bars[i] === null) {
      g.append("line").attr("x1", xs(c)).attr("x2", xs(c)).attr("y1", y(0)).attr("y2", y(0.5))
        .attr("stroke", "#333").attr("stroke-width", 2);
      g.append("text").attr("x", xs(c)).attr("y", y(0.5) - 11).attr("text-anchor", "middle")
        .attr("font-size", 34).text("NA");
    }
  });
  const rng = d3.randomUniform.source(d3.randomLcg(seed++ / 100))(-10.5, 10.5);
  const all = [];
  CATS.forEach((c, i) => (pts[i] || []).forEach(v => all.push({x: xs(c) + rng(), y: y(v), m: i === 0})));
  g.append("g").selectAll("circle").data(all).join("circle")
    .attr("cx", d => d.x).attr("cy", d => d.y).attr("r", R)
    .attr("fill", "none").attr("stroke", d => d.m ? "#a8904e" : "#767676").attr("stroke-width", 2.2);
  g.append("g").selectAll("circle").data(all).join("circle")
    .attr("cx", d => d.x).attr("cy", d => d.y).attr("r", R)
    .attr("fill", d => d.m ? COL.mplPt : "#f3f3f3");
  const ga = svg.append("g").attr("transform", `translate(0,${axisY})`)
    .call(d3.axisBottom(xs).tickSize(16).tickPadding(22).tickSizeOuter(0));
  styleAxis(ga, TICKFS);
  ga.select(".domain").attr("stroke", "#444").attr("stroke-width", 2.6);
}

// y axis for bar panels; "special" = [tick value, bound glyph drawn turned a quarter left]
function yAxisBars(y, major, minor, fmt, lo, hi, special) {
  const g = svg.append("g").attr("transform", "translate(323,0)")
    .call(d3.axisLeft(y).tickValues(major).tickSize(16).tickPadding(20).tickSizeOuter(0).tickFormat(fmt));
  styleAxis(g, TICKFS);
  g.select(".domain").attr("d", `M0,${y(lo)}V${y(hi)}`);
  if (minor.length) {
    const g2 = svg.append("g").attr("transform", "translate(323,0)")
      .call(d3.axisLeft(y).tickValues(minor).tickSize(8).tickFormat(""));
    g2.select(".domain").remove();
    g2.selectAll(".tick line").attr("stroke", "#555").attr("stroke-width", 1.6);
  }
  if (special) {
    g.selectAll(".tick text").filter(d => d === special[0]).each(function () {
      const w = this.getComputedTextLength();
      const xEnd = 323 - 16 - 20;
      const yb = y(special[0]) + 0.32 * TICKFS + 1;
      svg.append("text").attr("font-size", 42)
        .attr("transform", `translate(${xEnd - w - 6},${yb}) rotate(-90)`)
        .text(special[1]);
    });
  }
}

// Panel b
const yB = d3.scaleLinear().domain([0.433, 1]).range([592, 422]);
yAxisBars(yB, [0.5, 1.0], [0.6, 0.7, 0.8, 0.9], d => d3.format(".1f")(d), 0.5, 1.0, [0.5, "≤"]);
barSide(xL, yB, 0.433, benComplexBars, benComplexPts, 613);
barSide(xR, yB, 0.433, benSimpleBars, benSimplePts, 613);

// Panel c
const yCc = d3.scaleLinear().domain([0.433, 1]).range([935, 765]);
yAxisBars(yCc, [0.5, 1.0], [0.6, 0.7, 0.8, 0.9], d => d3.format(".1f")(d), 0.5, 1.0, [0.5, "≤"]);
barSide(xL, yCc, 0.433, delComplexBars, delComplexPts, 956);
barSide(xR, yCc, 0.433, delSimpleBars, delSimplePts, 956);

// Panel d
const yD = d3.scaleLinear().domain([0, 3]).range([1273, 1099]);
yAxisBars(yD, [0, 1, 2, 3], [], d => String(d), 0, 3, [3, "≥"]);
barSide(xL, yD, 0, errComplexBars, errComplexPts, 1298, 3.1);
barSide(xR, yD, 0, errSimpleBars, errSimplePts, 1298, 3.1);

// Panel e
const yE = d3.scaleLinear().domain([-3, 6]).range([1608.7, 1435.7]);
yAxisBars(yE, [-3, 0, 3, 6], [], d => d3.format("")(d), -3, 6, null);
barSide(xL, yE, 0, timeComplexBars, timeComplexPts, 1642);
barSide(xR, yE, 0, timeSimpleBars, timeSimplePts, 1642);

// Legend
const legX = [346, 628, 910], legY = [1805, 1857, 1909];
LEGEND.forEach((col, ci) => col.forEach((t, ri) =>
  label(legX[ci], legY[ri], t, {fs: 32, anchor: "start"}).attr("letter-spacing", -0.5)));
</script></body></html>
